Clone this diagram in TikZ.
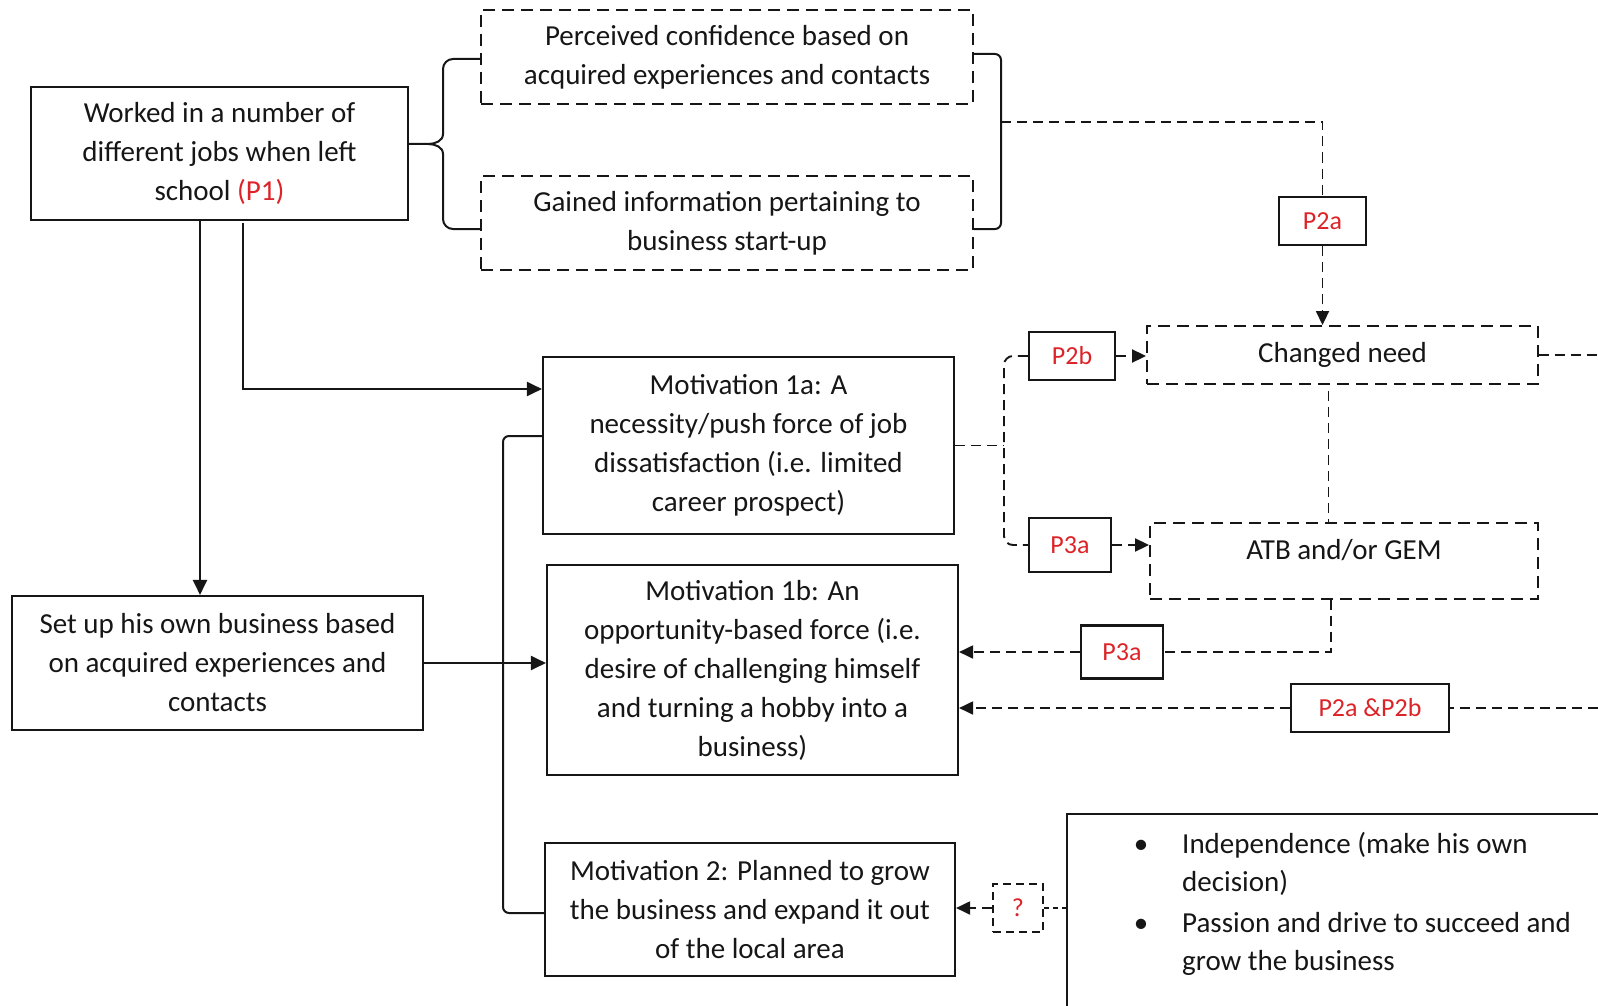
\documentclass[tikz,border=0pt]{standalone}
\usepackage{fontspec}
\setmainfont{Carlito}
\usetikzlibrary{arrows.meta}
\definecolor{ink}{RGB}{22,22,22}
\definecolor{pred}{RGB}{220,35,40}
\begin{document}
\begin{tikzpicture}[x=1pt,y=-1pt,
  every node/.style={inner sep=0pt, text=ink},
  txt/.style={font=\fontsize{29}{39}\selectfont},
  box/.style={draw=ink, line width=2.1pt, align=center, txt},
  dbox/.style={box, line width=1.9pt, dash pattern=on 12pt off 7pt},
  tag/.style={draw=ink, line width=2.1pt, text=pred, font=\fontsize{26}{30}\selectfont},
  dtag/.style={tag, line width=1.8pt, dash pattern=on 8pt off 5pt},
  line/.style={draw=ink, line width=2pt},
  dline/.style={draw=ink, line width=1.9pt, dash pattern=on 10pt off 6pt},
  arr/.style={line, -{Triangle[length=15pt,width=14pt]}},
  darr/.style={dline, -{Triangle[length=14pt,width=13pt]}},
]
\useasboundingbox (0,0) rectangle (1598,1006);
\clip (0,0) rectangle (1598,1006);

% left column
\node[box, minimum width=377pt, minimum height=133pt] (worked) at (219.5,153.5)
  {Worked in a number of\\different jobs when left\\school \textcolor{pred}{(P1)}};
\node[box, minimum width=411pt, minimum height=134pt] (setup) at (217.5,663)
  {Set up his own business based\\on acquired experiences and\\contacts};

% outcomes of working
\node[dbox, minimum width=492pt, minimum height=94pt] (perceived) at (727,57)
  {Perceived confidence based on\\acquired experiences and contacts};
\node[dbox, minimum width=492pt, minimum height=94pt] (gained) at (727,223)
  {Gained information pertaining to\\business start-up};

% motivations
\node[box, minimum width=411pt, minimum height=177pt] (mot1a) at (748.5,445.5)
  {Motivation 1a: A\\necessity/push force of job\\dissatisfaction (i.e. limited\\career prospect)};
\node[box, minimum width=411pt, minimum height=210pt] (mot1b) at (752.5,670)
  {Motivation 1b: An\\opportunity-based force (i.e.\\desire of challenging himself\\and turning a hobby into a\\business)};
\node[box, minimum width=410pt, minimum height=133pt] (mot2) at (750,909.5)
  {Motivation 2: Planned to grow\\the business and expand it out\\of the local area};

% right column
\node[dbox, minimum width=391pt, minimum height=58pt] (changed) at (1342.5,355) {Changed need};
\node[dbox, minimum width=388pt, minimum height=76pt] (atb) at (1344,561) {};
\node[txt] (atbtext) at (1344,550) {ATB and/or GEM};

% proposition tags
\node[tag, minimum width=87pt, minimum height=48pt] (p2a) at (1322.5,221) {P2a};
\node[tag, minimum width=86pt, minimum height=48pt] (p2b) at (1072,356) {P2b};
\node[tag, minimum width=82pt, minimum height=54pt] (p3a) at (1070,545) {P3a};
\node[tag, minimum width=82pt, minimum height=53pt] (p3alow) at (1122,652) {P3a};
\node[tag, minimum width=158pt, minimum height=48pt] (p2ab) at (1370,708) {P2a \&P2b};
\node[dtag, minimum width=50pt, minimum height=48pt] (q) at (1018,908) {?};

% personal traits
\node[draw=ink, line width=2.1pt, minimum width=573pt, minimum height=226pt] (traits) at (1353.5,927) {};
\node[txt, anchor=base] (bul1) at (1141,853) {\textbullet};
\node[txt, anchor=base west] (t1a) at (1182,853) {Independence (make his own};
\node[txt, anchor=base west] (t1b) at (1182,891) {decision)};
\node[txt, anchor=base] (bul2) at (1141,932) {\textbullet};
\node[txt, anchor=base west] (t2a) at (1182,932) {Passion and drive to succeed and};
\node[txt, anchor=base west] (t2b) at (1182,970) {grow the business};

% brace joining the two outcomes to the first box
\draw[line] (perceived.west |- 0,59) -- (453,59) to[out=180,in=90] (443,69) -- (443,134)
  to[out=-90,in=0] (428,144) -- (worked.east |- 0,144);
\draw[line] (428,144) to[out=0,in=90] (443,154) -- (443,219)
  to[out=-90,in=180] (453,229) -- (gained.west |- 0,229);

% bracket on the right of the outcomes
\draw[line] (perceived.east |- 0,54) -- (995,54) to[out=0,in=90] (1001,60) -- (1001,223)
  to[out=-90,in=0] (995,229) -- (gained.east |- 0,229);
\coordinate (rb) at (1001,122);
\draw[dline] (rb) -| (p2a.north);
\draw[darr] (p2a.south) -- (p2a.south |- changed.north);

% solid links from the first box
\draw[arr] ([xshift=-19.5pt]worked.south) -- ([xshift=-19.5pt]worked.south |- setup.north);
\draw[arr] ([xshift=23.5pt,yshift=-2pt]worked.south) |- ([yshift=56.5pt]mot1a.west);
\draw[arr] (setup.east) -- (setup.east -| mot1b.west);
\draw[line, rounded corners=6pt] ([yshift=9.5pt]mot1a.west) -- (503,436) |- ([yshift=-3.5pt]mot2.west);

% dashed fork from motivation 1a
\coordinate (fork) at (1004,445.5);
\draw[dline] (mot1a.east) -- (fork);
\draw[dline, rounded corners=9pt] (p2b.west) -| (fork) |- (p3a.west);
\draw[darr] (p2b.east) -- (p2b.east -| changed.west);
\draw[darr] (p3a.east) -- (p3a.east -| atb.west);

% links between the right-hand boxes
\draw[dline] ([xshift=-14pt,yshift=-6pt]changed.south) -- ([xshift=-14pt]changed.south |- atb.north);
\coordinate (edge1) at (1598,355);
\draw[dline] (changed.east) -- (edge1);
\draw[dline] ([xshift=-13pt]atb.south) |- (p3alow.east);
\draw[darr] (p3alow.west) -- (p3alow.west -| mot1b.east);
\coordinate (edge2) at (1598,708);
\draw[dline] (edge2) -- (p2ab.east);
\draw[darr] (p2ab.west) -- (p2ab.west -| mot1b.east);

% question link to motivation 2
\draw[darr] (q.west) -- (q.west -| mot2.east);
\draw[dline, dash pattern=on 5pt off 4pt] (q.east) -- (q.east -| traits.west);
\end{tikzpicture}
\end{document}
